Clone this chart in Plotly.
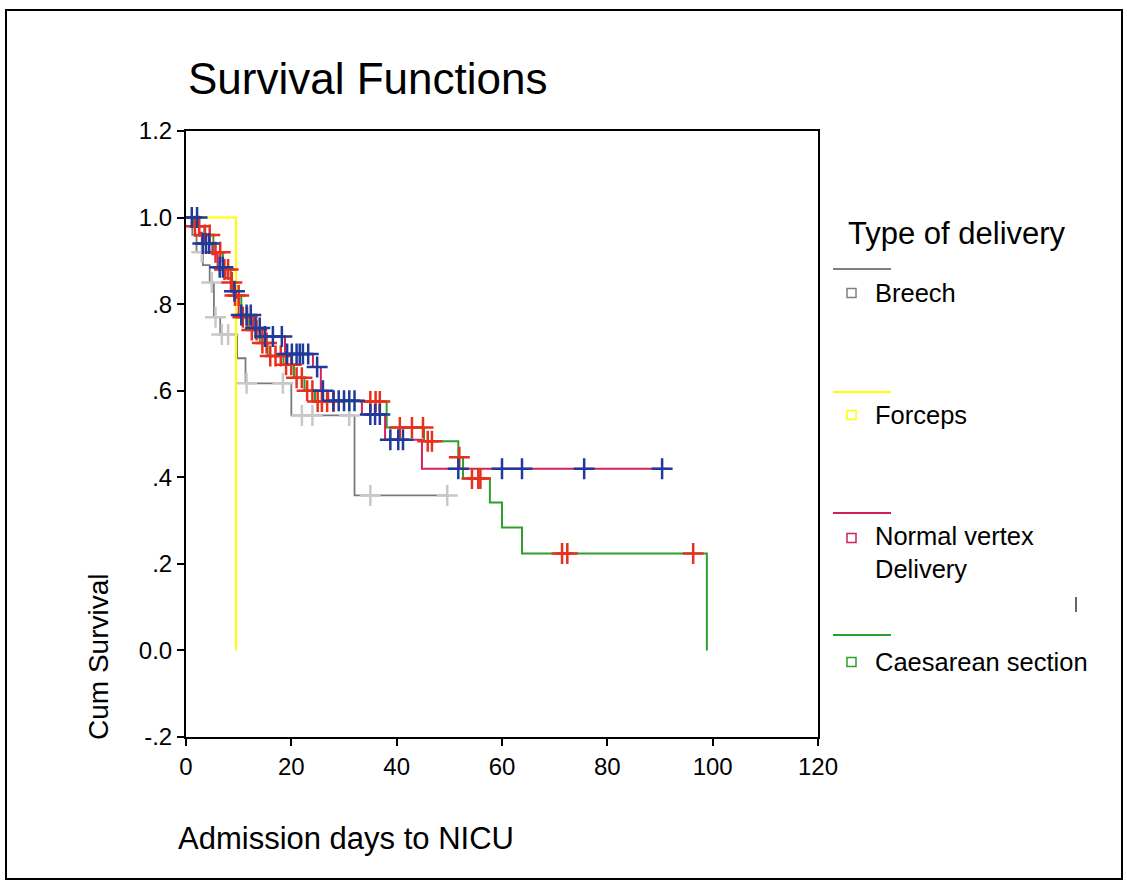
import plotly.graph_objects as go
import numpy as np

# ---------------- data ----------------
# Breech (grey)
breech_t = [0, 1.2, 2.0, 3.2, 4.5, 5.3, 6.5, 9.7, 11.3, 20.0, 32.0, 49.6]
breech_s = [1.0, 0.96, 0.92, 0.89, 0.85, 0.77, 0.73, 0.675, 0.617, 0.543, 0.358, 0.358]
breech_cens = [3.0, 4.9, 5.6, 6.8, 8.0, 11.5, 18.4, 22.0, 24.0, 31.0, 35.0, 49.6]

# Forceps (yellow)
forceps_t = [0, 9.5]
forceps_s = [1.0, 0.0]

# Normal vertex delivery (crimson line, blue censor marks)
normal_t = [0, 2.5, 3.0, 5.0, 6.0, 7.5, 8.5, 9.5, 10.0, 12.8, 14.5, 18.8, 24.1, 25.6, 27.0, 33.4, 37.8, 44.8, 91.5]
normal_s = [1.0, 0.965, 0.94, 0.915, 0.885, 0.86, 0.83, 0.815, 0.775, 0.745, 0.725, 0.685, 0.655, 0.60, 0.577, 0.545, 0.487, 0.42, 0.42]
normal_cens = [1.1, 2.1, 3.2, 3.8, 4.4, 6.4, 7.0, 9.2, 10.5, 11.5, 12.3, 13.2, 14.0,
               15.0, 16.5, 18.2, 19.2, 20.1, 21.0, 21.6, 22.2, 23.2, 24.9, 26.0,
               28.0, 29.0, 30.0, 31.0, 32.0, 35.0, 35.9, 36.8, 38.8, 40.3, 41.2,
               51.7, 60.0, 63.8, 75.6, 90.4]

# Caesarean section (green line, red censor marks)
caes_t = [0, 1.5, 3.5, 5.2, 7.0, 8.5, 9.0, 10.5, 12.0, 14.0, 15.5, 18.5, 20.5, 22.5, 24.5,
          38.1, 45.2, 51.7, 52.6, 57.7, 60.0, 63.8, 98.9]
caes_s = [1.0, 0.98, 0.96, 0.92, 0.88, 0.85, 0.82, 0.77, 0.74, 0.71, 0.68, 0.66, 0.63, 0.60, 0.575,
          0.515, 0.483, 0.446, 0.397, 0.342, 0.284, 0.224, 0.0]
caes_cens = [1.7, 2.5, 3.6, 4.5, 5.6, 6.5, 7.3, 8.0, 8.7, 9.3, 10.0, 10.8, 11.6, 12.5, 13.4,
             14.5, 15.3, 16.0, 17.0, 18.0, 19.0, 20.0, 21.0, 22.0, 23.0, 24.0, 25.0, 25.8,
             26.8, 28.0, 35.0, 36.0, 36.8, 40.6, 42.9, 45.0, 45.9, 46.7, 51.9, 54.3, 55.5,
             55.9, 71.4, 72.4, 96.3]

x_ticks = [0, 20, 40, 60, 80, 100, 120]
y_ticks = [1.2, 1.0, 0.8, 0.6, 0.4, 0.2, 0.0, -0.2]
y_tick_text = ["1.2", "1.0", ".8", ".6", ".4", ".2", "0.0", "-.2"]

legend_names = ["Breech", "Forceps", "Normal vertex<br>Delivery", "Caesarean section"]
legend_colors = ["#808080", "#ffff00", "#cc2255", "#2ca02c"]

FONT = "Liberation Sans, Arial, sans-serif"


def step_value(times, surv, t):
    idx = np.searchsorted(np.array(times), t, side="right") - 1
    return surv[max(idx, 0)]


fig = go.Figure()


def add_curve(t, s, color, width=2):
    fig.add_trace(go.Scatter(x=t, y=s, mode="lines", line=dict(color=color, width=width, shape="hv"),
                             showlegend=False, hoverinfo="skip"))


def add_cens(times, ct, cs, color):
    ys = [step_value(ct, cs, t) for t in times]
    fig.add_trace(go.Scatter(x=times, y=ys, mode="markers",
                             marker=dict(symbol="cross-thin", size=15,
                                         line=dict(color=color, width=2.5)),
                             showlegend=False, hoverinfo="skip"))


add_curve(breech_t, breech_s, "#7a7a7a", 1.8)
add_cens(breech_cens, breech_t, breech_s, "#c8c8c8")
add_curve(forceps_t, forceps_s, "#ffff00", 2)
add_curve(caes_t, caes_s, "#2ca02c", 2)
add_curve(normal_t, normal_s, "#d0245e", 2)
add_cens(caes_cens, caes_t, caes_s, "#e8301c")
add_cens(normal_cens, normal_t, normal_s, "#1f3a9a")

# ---------------- layout helpers ----------------
L, R, T, B = 186, 818, 131, 737
W, H = 1127, 886


def px(x):
    return (x - L) / (R - L)


def py(y):
    return (B - y) / (B - T)


shapes = []
annotations = []

# outer frame
shapes.append(dict(type="rect", xref="paper", yref="paper", x0=px(6), x1=px(1122), y0=py(10), y1=py(879),
                   line=dict(color="black", width=2), fillcolor="rgba(0,0,0,0)", layer="below"))

# title
annotations.append(dict(text="Survival Functions", xref="paper", yref="paper", x=px(186), y=py(78),
                        xanchor="left", yanchor="middle", showarrow=False,
                        font=dict(family=FONT, size=44, color="black")))
# axis titles
annotations.append(dict(text="Cum Survival", xref="paper", yref="paper", x=px(98), y=py(742),
                        xanchor="center", yanchor="bottom", textangle=-90, showarrow=False,
                        font=dict(family=FONT, size=28, color="black")))
annotations.append(dict(text="Admission days to NICU", xref="paper", yref="paper", x=px(176), y=py(838),
                        xanchor="left", yanchor="middle", showarrow=False,
                        font=dict(family=FONT, size=31, color="black")))
# legend title
annotations.append(dict(text="Type of delivery", xref="paper", yref="paper", x=px(846), y=py(233),
                        xanchor="left", yanchor="middle", showarrow=False,
                        font=dict(family=FONT, size=31, color="black")))

line_y = [269, 392, 513, 635]
text_y = [293, 415, 552, 662]
for name, col, ly, ty in zip(legend_names, legend_colors, line_y, text_y):
    shapes.append(dict(type="line", xref="paper", yref="paper", x0=px(833), x1=px(891), y0=py(ly), y1=py(ly),
                       line=dict(color=col, width=2)))
    sq_y = ty if "<br>" not in name else 538
    shapes.append(dict(type="rect", xref="paper", yref="paper", x0=px(847), x1=px(856),
                       y0=py(sq_y - 4.5), y1=py(sq_y + 4.5), line=dict(color=col, width=1.5),
                       fillcolor="white"))
    annotations.append(dict(text=name, xref="paper", yref="paper", x=px(873), y=py(ty),
                            xanchor="left", yanchor="middle", align="left", showarrow=False,
                            font=dict(family=FONT, size=25.5, color="black")))

# stray mark
shapes.append(dict(type="line", xref="paper", yref="paper", x0=px(1076), x1=px(1076), y0=py(597), y1=py(612),
                   line=dict(color="black", width=1.2)))

fig.update_layout(
    width=W, height=H,
    margin=dict(l=L, r=W - R, t=T, b=H - B),
    paper_bgcolor="white", plot_bgcolor="white",
    showlegend=False,
    shapes=shapes, annotations=annotations,
    font=dict(family=FONT, color="black"),
)
fig.update_xaxes(range=[0, 120], tickvals=x_ticks, ticktext=[str(v) for v in x_ticks],
                 showgrid=False, zeroline=False, showline=True, mirror=True, linecolor="black", linewidth=2,
                 ticks="outside", ticklen=7, tickwidth=2, tickcolor="black",
                 tickfont=dict(family=FONT, size=24, color="black"))
fig.update_yaxes(range=[-0.2, 1.2], tickvals=y_ticks, ticktext=y_tick_text,
                 showgrid=False, zeroline=False, showline=True, mirror=True, linecolor="black", linewidth=2,
                 ticks="outside", ticklen=7, tickwidth=2, tickcolor="black",
                 tickfont=dict(family=FONT, size=24, color="black"))

fig.write_html("out.html")
